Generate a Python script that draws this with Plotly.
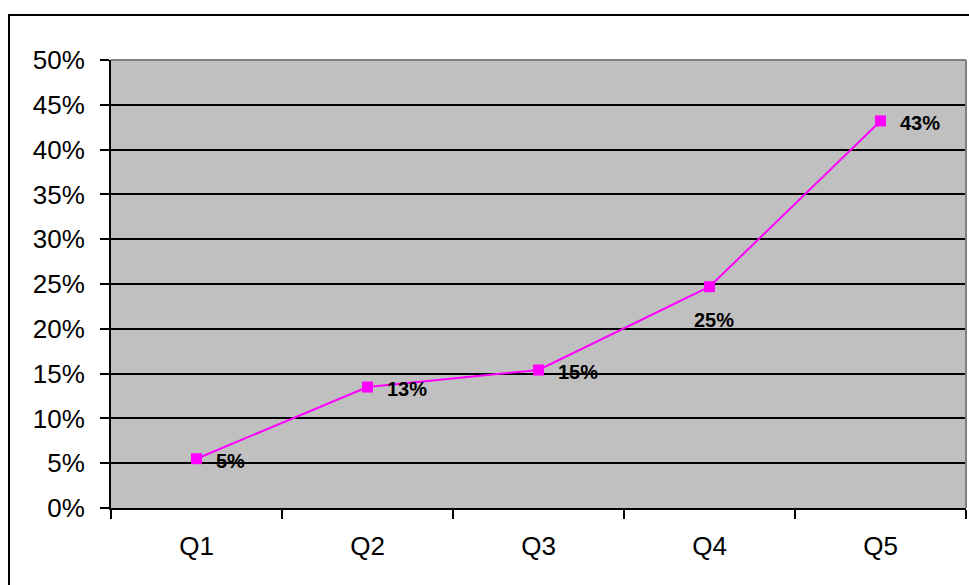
import plotly.graph_objects as go

categories = ["Q1", "Q2", "Q3", "Q4", "Q5"]
values = [5.5, 13.5, 15.4, 24.7, 43.2]
labels = ["5%", "13%", "15%", "25%", "43%"]
y_ticks = [0, 5, 10, 15, 20, 25, 30, 35, 40, 45, 50]
y_tick_text = [f"{v}%" for v in y_ticks]

W, H = 969, 585
L, R, T, B = 111, 3, 60, 77
pw, ph = W - L - R, H - T - B

fig = go.Figure()
fig.add_trace(go.Scatter(
    x=categories, y=values, mode="lines+markers",
    line=dict(color="#FF00FF", width=2),
    marker=dict(symbol="square", size=11, color="#FF00FF"),
    hoverinfo="skip", showlegend=False,
))

annotations = []
for i, (c, v, t) in enumerate(zip(categories, values, labels)):
    if c == "Q4":
        annotations.append(dict(x=c, y=v, text=f"<b>{t}</b>", showarrow=False,
                                xanchor="center", yanchor="middle", xshift=4, yshift=-33,
                                font=dict(family="Liberation Sans, Arial", size=20, color="black")))
    else:
        annotations.append(dict(x=c, y=v, text=f"<b>{t}</b>", showarrow=False,
                                xanchor="left", yanchor="middle", xshift=17, yshift=-2,
                                font=dict(family="Liberation Sans, Arial", size=20, color="black")))

fig.update_layout(
    width=W, height=H,
    margin=dict(l=L, r=R, t=T, b=B),
    paper_bgcolor="white", plot_bgcolor="#C0C0C0",
    font=dict(family="Liberation Sans, Arial", size=26, color="black"),
    annotations=annotations,
    xaxis=dict(
        type="category", range=[-0.5, 4.5], tickson="boundaries",
        ticks="outside", ticklen=9, tickwidth=1.5, tickcolor="black",
        showgrid=False, showline=True, linecolor="black", linewidth=2,
        zeroline=False, ticklabelstandoff=14,
        tickfont=dict(size=26, family="Liberation Sans, Arial"),
    ),
    yaxis=dict(
        range=[0, 50], tickvals=y_ticks, ticktext=y_tick_text,
        ticks="outside", ticklen=9, tickwidth=1.5, tickcolor="black",
        showgrid=True, gridcolor="black", gridwidth=1.6,
        showline=True, linecolor="black", linewidth=2, zeroline=False,
        ticklabelstandoff=10,
        tickfont=dict(size=26, family="Liberation Sans, Arial"),
    ),
    shapes=[
        dict(type="line", xref="paper", yref="paper", x0=0, x1=1, y0=1, y1=1,
             line=dict(color="#808080", width=2), layer="above"),
        dict(type="line", xref="paper", yref="paper", x0=1, x1=1, y0=0, y1=1,
             line=dict(color="#808080", width=2), layer="above"),
        dict(type="rect", xref="paper", yref="paper",
             x0=(9 - L) / pw, x1=1.05, y0=-0.3, y1=1 + (T - 15) / ph,
             line=dict(color="black", width=2), fillcolor="rgba(0,0,0,0)", layer="above"),
    ],
)

fig.write_html("out.html")
